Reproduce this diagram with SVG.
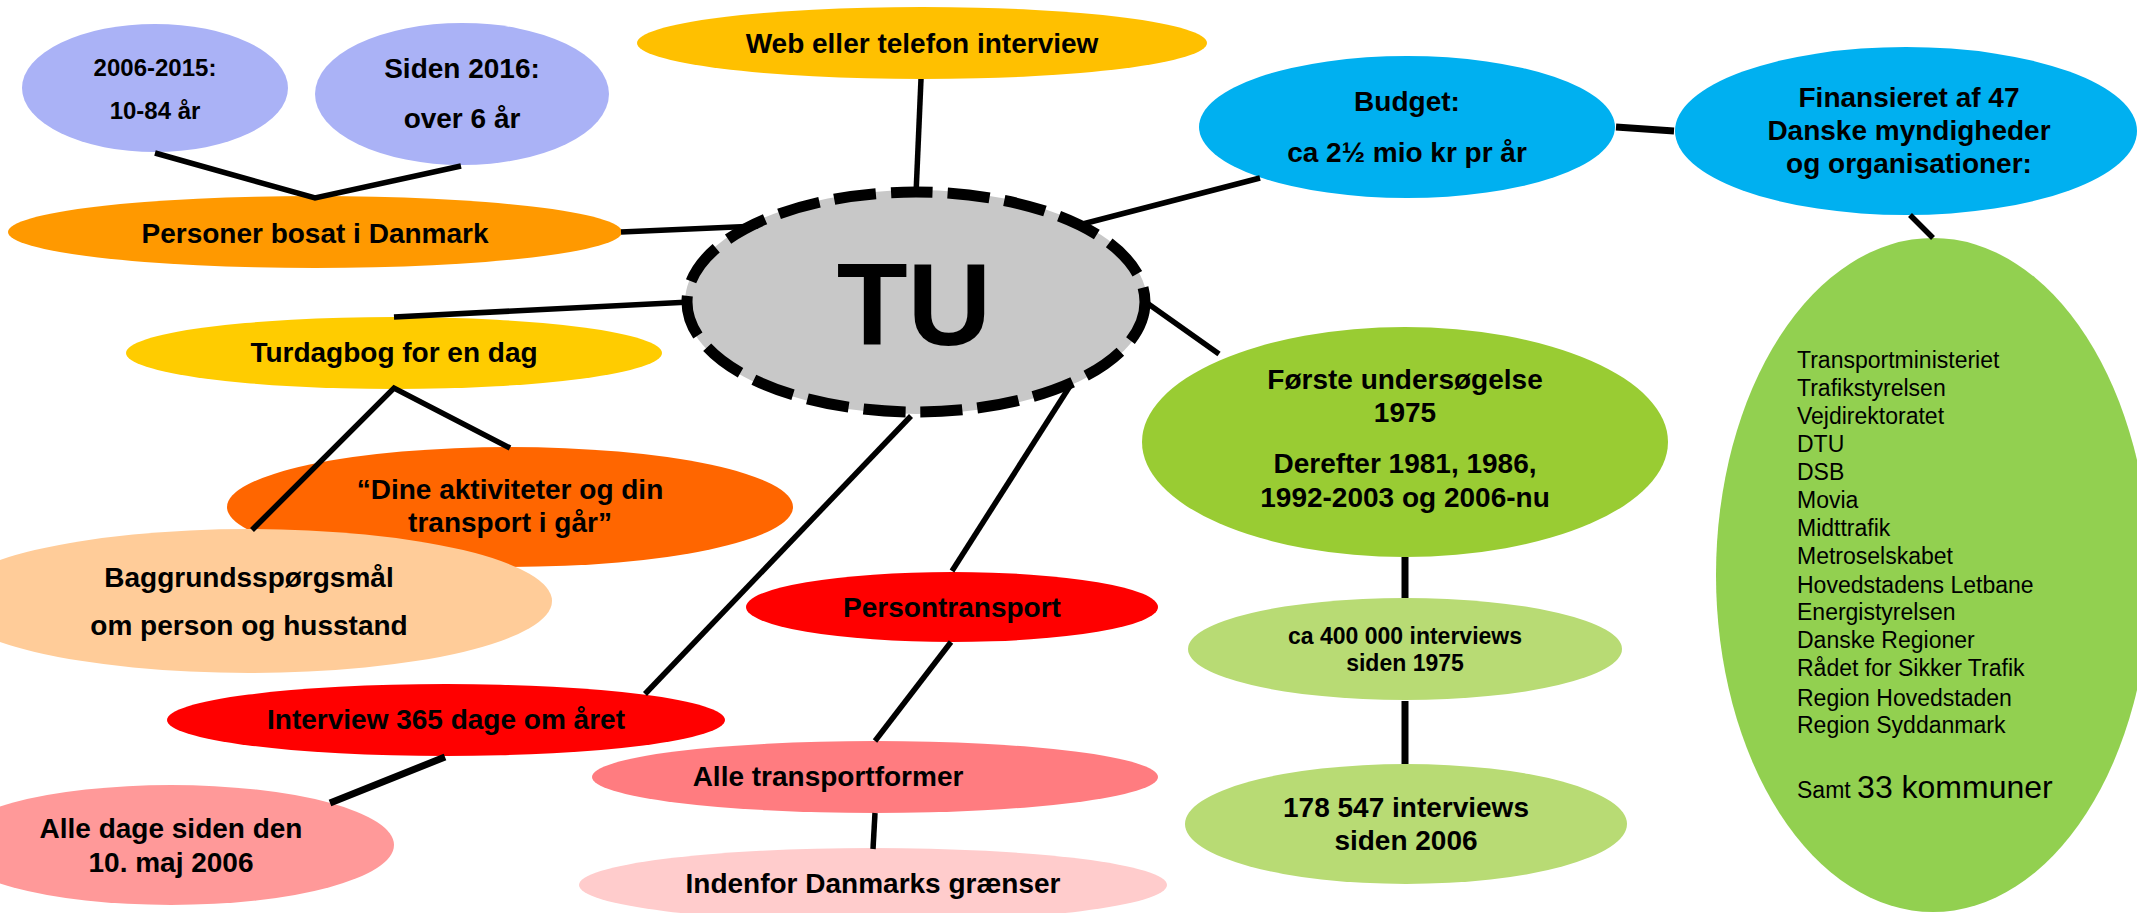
<svg xmlns="http://www.w3.org/2000/svg" width="2137" height="913" viewBox="0 0 2137 913">
<style>
text{font-family:"Liberation Sans",Arial,sans-serif;fill:#000}
.b{font-weight:bold;font-size:28px;text-anchor:middle}
.s{font-weight:bold;font-size:23px;text-anchor:middle}
.l{font-size:23px}
.c line,.c polyline{stroke:#000;stroke-width:5.5;fill:none}
</style>
<rect width="2137" height="913" fill="#fff"/>
<g id="n-2006"><ellipse cx="155" cy="88" rx="133" ry="64" fill="#AAB2F6"/><text class="b" x="155" y="76" style="font-size:24px">2006-2015:</text><text class="b" x="155" y="119" style="font-size:24px">10-84 år</text></g>
<g id="n-2016"><ellipse cx="462" cy="94" rx="147" ry="71" fill="#AAB2F6"/><text class="b" x="462" y="78">Siden 2016:</text><text class="b" x="462" y="128">over 6 år</text></g>
<g id="n-personer"><ellipse cx="315" cy="232" rx="307" ry="36" fill="#FF9900"/><text class="b" x="315" y="243">Personer bosat i Danmark</text></g>
<g id="n-web"><ellipse cx="922" cy="43" rx="285" ry="36" fill="#FFC000"/><text class="b" x="922" y="53">Web eller telefon interview</text></g>
<g id="n-tu"><ellipse cx="916" cy="302" rx="231" ry="112" fill="#C8C8C8"/><ellipse cx="916" cy="302" rx="229" ry="110" fill="none" stroke="#000" stroke-width="11" stroke-dasharray="42 15"/><text x="914" y="345" style="font-weight:bold;font-size:116px;text-anchor:middle">TU</text></g>
<g id="n-budget"><ellipse cx="1407" cy="127" rx="208" ry="71" fill="#00B0F0"/><text class="b" x="1407" y="111">Budget:</text><text class="b" x="1407" y="162">ca 2½ mio kr pr år</text></g>
<g id="n-fin"><ellipse cx="1906" cy="131" rx="231" ry="84" fill="#00B0F0"/><text class="b" x="1909" y="107">Finansieret af 47</text><text class="b" x="1909" y="140">Danske myndigheder</text><text class="b" x="1909" y="173">og organisationer:</text></g>
<g id="n-list"><ellipse cx="1933" cy="575" rx="217" ry="337" fill="#92D050"/>
<text class="l" x="1797" y="368">Transportministeriet</text>
<text class="l" x="1797" y="396">Trafikstyrelsen</text>
<text class="l" x="1797" y="424">Vejdirektoratet</text>
<text class="l" x="1797" y="452">DTU</text>
<text class="l" x="1797" y="480">DSB</text>
<text class="l" x="1797" y="508">Movia</text>
<text class="l" x="1797" y="536">Midttrafik</text>
<text class="l" x="1797" y="564">Metroselskabet</text>
<text class="l" x="1797" y="593">Hovedstadens Letbane</text>
<text class="l" x="1797" y="620">Energistyrelsen</text>
<text class="l" x="1797" y="648">Danske Regioner</text>
<text class="l" x="1797" y="676">Rådet for Sikker Trafik</text>
<text class="l" x="1797" y="706">Region Hovedstaden</text>
<text class="l" x="1797" y="733">Region Syddanmark</text>
<text class="l" x="1797" y="798">Samt <tspan style="font-size:32px">33 kommuner</tspan></text></g>
<g id="n-turdagbog"><ellipse cx="394" cy="353" rx="268" ry="36" fill="#FFCC00"/><text class="b" x="394" y="362">Turdagbog for en dag</text></g>
<g id="n-dine"><ellipse cx="510" cy="507" rx="283" ry="60" fill="#FF6600"/><text class="b" x="510" y="499">“Dine aktiviteter og din</text><text class="b" x="510" y="532">transport i går”</text></g>
<g id="n-baggrund"><ellipse cx="249" cy="601" rx="303" ry="72" fill="#FFCC99"/><text class="b" x="249" y="587">Baggrundsspørgsmål</text><text class="b" x="249" y="635">om person og husstand</text></g>
<g id="n-interview"><ellipse cx="446" cy="720" rx="279" ry="36" fill="#FF0000"/><text class="b" x="446" y="729">Interview 365 dage om året</text></g>
<g id="n-alledage"><ellipse cx="171" cy="845" rx="223" ry="60" fill="#FF9999"/><text class="b" x="171" y="838">Alle dage siden den</text><text class="b" x="171" y="872">10. maj 2006</text></g>
<g id="n-persontransport"><ellipse cx="952" cy="607" rx="206" ry="35" fill="#FF0000"/><text class="b" x="952" y="617">Persontransport</text></g>
<g id="n-alletransport"><ellipse cx="875" cy="777" rx="283" ry="36" fill="#FF7C80"/><text class="b" x="828" y="786">Alle transportformer</text></g>
<g id="n-indenfor"><ellipse cx="873" cy="885" rx="294" ry="37" fill="#FFCCCC"/><text class="b" x="873" y="893">Indenfor Danmarks grænser</text></g>
<g id="n-forste"><ellipse cx="1405" cy="442" rx="263" ry="115" fill="#99CC33"/><text class="b" x="1405" y="389">Første undersøgelse</text><text class="b" x="1405" y="422">1975</text><text class="b" x="1405" y="473">Derefter 1981, 1986,</text><text class="b" x="1405" y="507">1992-2003 og 2006-nu</text></g>
<g id="n-400"><ellipse cx="1405" cy="649" rx="217" ry="51" fill="#B8DB74"/><text class="s" x="1405" y="644">ca 400 000 interviews</text><text class="s" x="1405" y="671">siden 1975</text></g>
<g id="n-178"><ellipse cx="1406" cy="824" rx="221" ry="60" fill="#B8DB74"/><text class="b" x="1406" y="817">178 547 interviews</text><text class="b" x="1406" y="850">siden 2006</text></g>
<g id="connectors" class="c">
<polyline points="155,153 315,198 461,166"/>
<line x1="621" y1="232" x2="758" y2="226"/>
<line x1="394" y1="317" x2="690" y2="302"/>
<line x1="921" y1="79" x2="916" y2="194"/>
<line x1="1075" y1="226" x2="1260" y2="178"/>
<line x1="1616" y1="127" x2="1674" y2="131" style="stroke-width:7"/>
<line x1="1910" y1="215" x2="1933" y2="238"/>
<line x1="1147" y1="303" x2="1219" y2="354"/>
<line x1="1405" y1="557" x2="1405" y2="598" style="stroke-width:7"/>
<line x1="1405" y1="701" x2="1405" y2="764" style="stroke-width:7"/>
<polyline points="252,530 394,388 510,448"/>
<line x1="911" y1="416" x2="645" y2="694"/>
<line x1="445" y1="757" x2="330" y2="803" style="stroke-width:7"/>
<line x1="1070" y1="386" x2="952" y2="571"/>
<line x1="951" y1="642" x2="875" y2="741"/>
<line x1="875" y1="813" x2="873" y2="849"/>
</g>
</svg>
